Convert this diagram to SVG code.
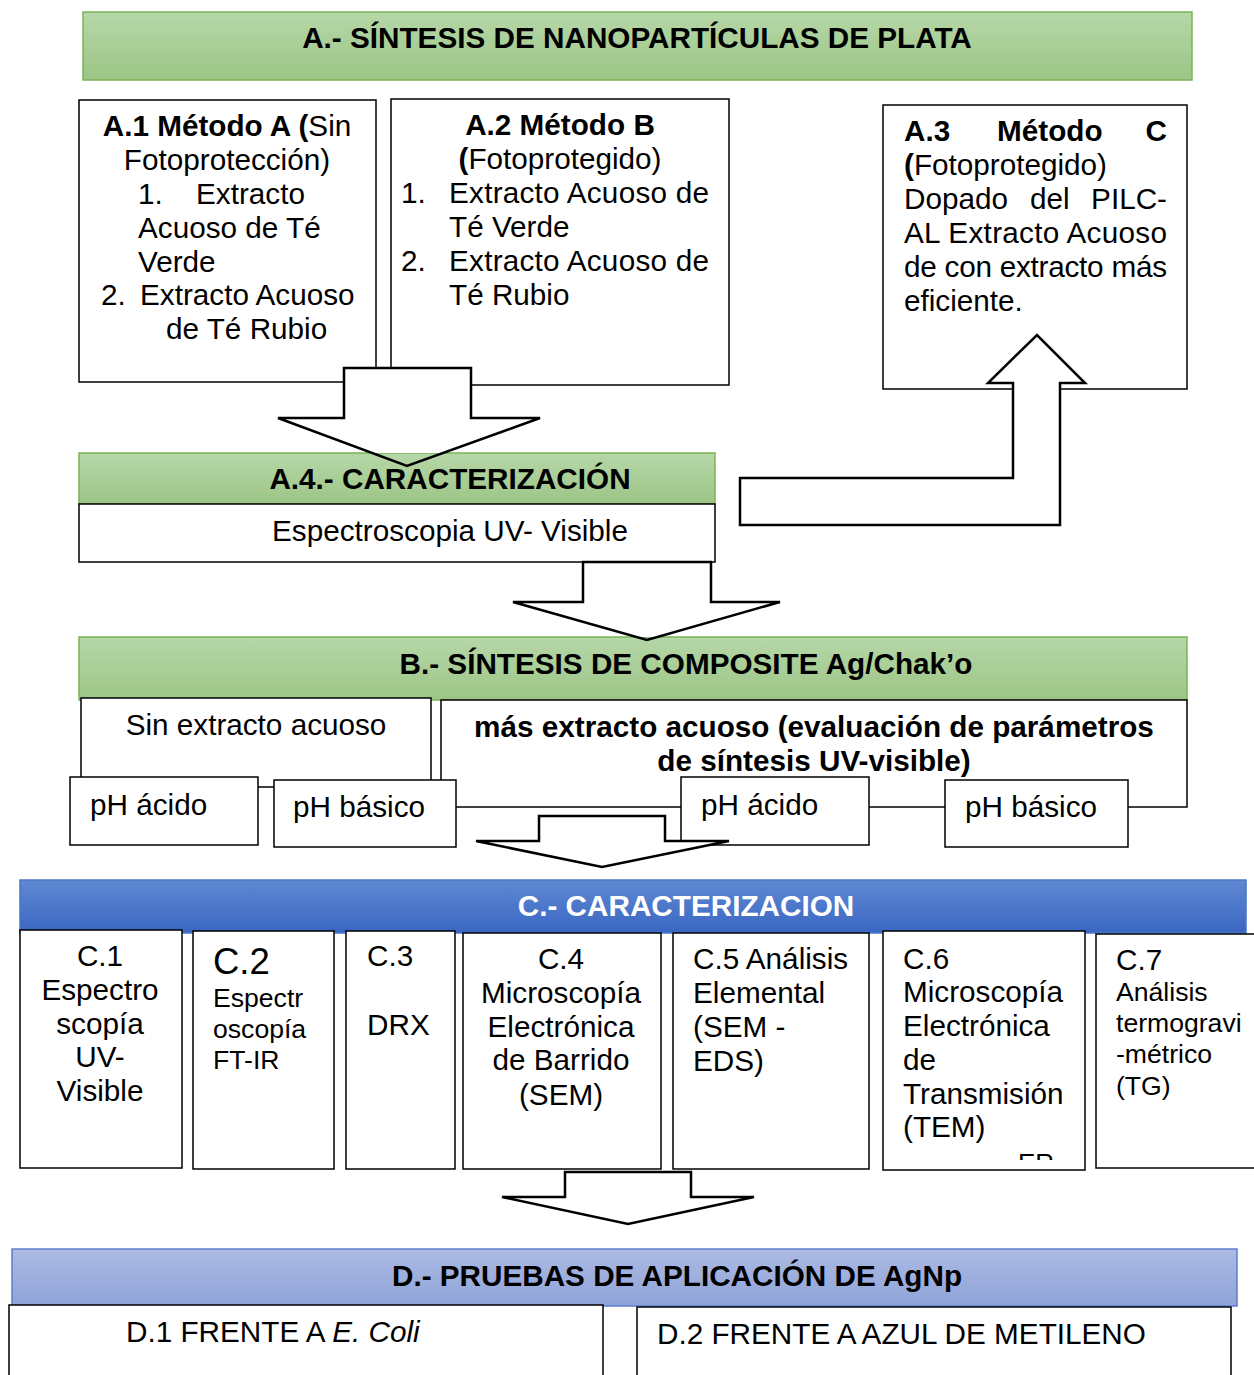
<svg xmlns="http://www.w3.org/2000/svg" xmlns:xlink="http://www.w3.org/1999/xlink" width="1254" height="1375" viewBox="0 0 1254 1375">
<defs>
<linearGradient id="green" x1="0" y1="0" x2="0" y2="1"><stop offset="0" stop-color="#b6d7a8"/><stop offset="1" stop-color="#9cc586"/></linearGradient>
<linearGradient id="blue" x1="0" y1="0" x2="0" y2="1"><stop offset="0" stop-color="#6089d2"/><stop offset="1" stop-color="#3966c2"/></linearGradient>
<linearGradient id="lav" x1="0" y1="0" x2="0" y2="1"><stop offset="0" stop-color="#adbbe3"/><stop offset="1" stop-color="#8ea3d8"/></linearGradient>
<clipPath id="clipA1"><rect x="0" y="0" width="1254" height="453"/></clipPath>
<clipPath id="clipA2"><rect x="0" y="0" width="1254" height="637"/></clipPath>
<clipPath id="clipER"><rect x="990" y="1100" width="100" height="60"/></clipPath>
<polygon id="arr1" points="344,368 471,368 471,418 540,418 407,466 278,418 344,418"/>
<polygon id="arr2" points="583,562 711,562 711,602 780,602 647,640 513,602 583,602"/>
</defs>
<style>
.box{fill:#fff;stroke:#000;stroke-width:1.5}
.hg{fill:url(#green);stroke:#79b457;stroke-width:1.5}
.hb{fill:url(#blue);stroke:#4a75c8;stroke-width:1.5}
.hl{fill:url(#lav);stroke:#5b7fcf;stroke-width:1.5}
.arrow{fill:#fff;stroke:#000;stroke-width:2.5;stroke-linejoin:miter}
.afill{fill:#fff;stroke:none}
.aline{fill:none;stroke:#000;stroke-width:2.5;stroke-linejoin:miter}
text{font-family:"Liberation Sans",Arial,sans-serif;font-size:29.7px;fill:#000}
.b{font-weight:bold}
.m{text-anchor:middle}
.e{text-anchor:end}
.w{fill:#fff}
.s26{font-size:26.6px}
</style>

<g id="headerA">
<rect class="hg" x="83" y="12" width="1109" height="68"/>
<text class="b m" x="637" y="48">A.- SÍNTESIS DE NANOPARTÍCULAS DE PLATA</text>
</g>

<g id="A1">
<rect class="box" x="79" y="100" width="297" height="282"/>
<text class="m" x="227" y="136"><tspan class="b">A.1 Método A (</tspan>Sin</text>
<text class="m" x="227" y="170">Fotoprotección)</text>
<text x="138" y="204">1.</text><text x="196" y="204">Extracto</text>
<text x="138" y="238">Acuoso de Té</text>
<text x="138" y="272">Verde</text>
<text x="101" y="305">2.</text><text x="140" y="305">Extracto Acuoso</text>
<text x="166" y="339">de Té Rubio</text>
</g>

<g id="A2">
<rect class="box" x="391" y="99" width="338" height="286"/>
<text class="b m" x="560" y="135">A.2 Método B</text>
<text class="m" x="560" y="169"><tspan class="b">(</tspan>Fotoprotegido)</text>
<text x="401" y="203">1.</text><text x="449" y="203" textLength="260" lengthAdjust="spacing">Extracto Acuoso de</text>
<text x="449" y="237">Té Verde</text>
<text x="401" y="271">2.</text><text x="449" y="271" textLength="260" lengthAdjust="spacing">Extracto Acuoso de</text>
<text x="449" y="305">Té Rubio</text>
</g>

<g id="A3">
<rect class="box" x="883" y="105" width="304" height="284"/>
<text class="b" x="904" y="141">A.3</text><text class="b" x="997" y="141">Método</text><text class="b e" x="1167" y="141">C</text>
<text x="904" y="175"><tspan class="b">(</tspan>Fotoprotegido)</text>
<text x="904" y="209">Dopado</text><text x="1030" y="209">del</text><text class="e" x="1167" y="209">PILC-</text>
<text x="904" y="243" textLength="263" lengthAdjust="spacing">AL Extracto Acuoso</text>
<text x="904" y="277" textLength="263" lengthAdjust="spacing">de con extracto más</text>
<text x="904" y="311">eficiente.</text>
</g>

<g id="A4">
<rect class="hg" x="79" y="453" width="636" height="51"/>
<rect class="box" x="79" y="504" width="636" height="58"/>
<text class="b m" x="450" y="489">A.4.- CARACTERIZACIÓN</text>
<text class="m" x="450" y="541">Espectroscopia UV- Visible</text>
</g>

<g id="headerB">
<rect class="hg" x="79" y="637" width="1108" height="63"/>
<text class="b m" x="686" y="674">B.- SÍNTESIS DE COMPOSITE Ag/Chak’o</text>
</g>

<g id="B-sin">
<rect class="box" x="81" y="698" width="350" height="89"/>
<text class="m" x="256" y="735">Sin extracto acuoso</text>
</g>

<g id="B-mas">
<rect class="box" x="441" y="700" width="746" height="107"/>
<text class="b m" x="814" y="737">más extracto acuoso (evaluación de parámetros</text>
<text class="b m" x="814" y="771">de síntesis UV-visible)</text>
</g>

<g id="B-ph-acido-1">
<rect class="box" x="70" y="777" width="188" height="68"/>
<text x="90" y="815">pH ácido</text>
</g>
<g id="B-ph-basico-1">
<rect class="box" x="274" y="780" width="182" height="67"/>
<text x="293" y="817">pH básico</text>
</g>
<g id="B-ph-acido-2">
<rect class="box" x="681" y="777" width="188" height="68"/>
<text x="701" y="815">pH ácido</text>
</g>
<g id="B-ph-basico-2">
<rect class="box" x="945" y="780" width="183" height="67"/>
<text x="965" y="817">pH básico</text>
</g>

<g id="headerC">
<rect class="hb" x="20" y="880" width="1226" height="53"/>
<text class="b m w" x="686" y="916">C.- CARACTERIZACION</text>
</g>

<g id="C1">
<rect class="box" x="20" y="930" width="162" height="238"/>
<text class="m" x="100" y="966">C.1</text>
<text class="m" x="100" y="1000">Espectro</text>
<text class="m" x="100" y="1034">scopía</text>
<text class="m" x="100" y="1067">UV-</text>
<text class="m" x="100" y="1101">Visible</text>
</g>
<g id="C2">
<rect class="box" x="193" y="931" width="141" height="238"/>
<text x="213" y="974" style="font-size:36.5px">C.2</text>
<text class="s26" x="213" y="1007">Espectr</text>
<text class="s26" x="213" y="1038">oscopía</text>
<text class="s26" x="213" y="1069">FT-IR</text>
</g>
<g id="C3">
<rect class="box" x="346" y="931" width="109" height="238"/>
<text x="367" y="966">C.3</text>
<text x="367" y="1035">DRX</text>
</g>
<g id="C4">
<rect class="box" x="463" y="933" width="198" height="236"/>
<text class="m" x="561" y="969">C.4</text>
<text class="m" x="561" y="1003">Microscopía</text>
<text class="m" x="561" y="1037">Electrónica</text>
<text class="m" x="561" y="1070">de Barrido</text>
<text class="m" x="561" y="1105">(SEM)</text>
</g>
<g id="C5">
<rect class="box" x="673" y="933" width="196" height="236"/>
<text x="693" y="969">C.5 Análisis</text>
<text x="693" y="1003">Elemental</text>
<text x="693" y="1037">(SEM -</text>
<text x="693" y="1071">EDS)</text>
</g>
<g id="C6">
<rect class="box" x="883" y="931" width="202" height="239"/>
<text x="903" y="969">C.6</text>
<text x="903" y="1002">Microscopía</text>
<text x="903" y="1036">Electrónica</text>
<text x="903" y="1070">de</text>
<text x="903" y="1104">Transmisión</text>
<text x="903" y="1137">(TEM)</text>
<text x="1018" y="1172" clip-path="url(#clipER)" style="font-size:26px">ER</text>
</g>
<g id="C7">
<rect class="box" x="1096" y="934" width="170" height="234"/>
<text x="1116" y="970">C.7</text>
<text class="s26" x="1116" y="1001">Análisis</text>
<text class="s26" x="1116" y="1032">termogravi</text>
<text class="s26" x="1116" y="1063">-métrico</text>
<text class="s26" x="1116" y="1095">(TG)</text>
</g>

<g id="headerD">
<rect class="hl" x="12" y="1249" width="1225" height="57"/>
<text class="b m" x="677" y="1286">D.- PRUEBAS DE APLICACIÓN DE AgNp</text>
</g>
<g id="D1">
<rect class="box" x="9" y="1305" width="594" height="80"/>
<text x="126" y="1342">D.1 FRENTE A <tspan font-style="italic">E. Coli</tspan></text>
</g>
<g id="D2">
<rect class="box" x="637" y="1307" width="594" height="80"/>
<text x="657" y="1344">D.2 FRENTE A AZUL DE METILENO</text>
</g>

<g id="connectors">
<use xlink:href="#arr1" href="#arr1" class="afill" clip-path="url(#clipA1)"/>
<use xlink:href="#arr1" href="#arr1" class="aline"/>
<use xlink:href="#arr2" href="#arr2" class="afill" clip-path="url(#clipA2)"/>
<use xlink:href="#arr2" href="#arr2" class="aline"/>
<polygon class="arrow" points="740,478 1013,478 1013,383 988,383 1037,335 1085,383 1060,383 1060,525 740,525"/>
<polygon class="arrow" points="539,816 665,816 665,841 729,841 602,867 476,841 539,841"/>
<polygon class="arrow" points="565,1172 691,1172 691,1197 754,1197 628,1224 502,1197 565,1197"/>
</g>
</svg>
